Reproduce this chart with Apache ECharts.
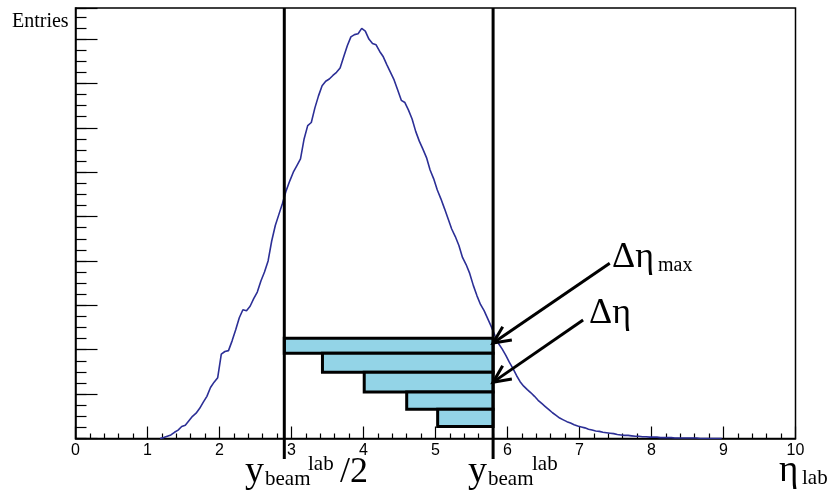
<!DOCTYPE html>
<html>
<head>
<meta charset="utf-8">
<script src="https://cdn.jsdelivr.net/npm/echarts@6/dist/echarts.min.js"></script>
<style>
  html, body { margin: 0; padding: 0; background: #fff; }
  #chart { width: 835px; height: 495px; }
</style>
</head>
<body>
<div id="chart"></div>
<script>
// Pseudorapidity distribution in the lab frame (arbitrary units), bins of 0.05
const binStart = 1.15;
const binWidth = 0.05;
const counts = [
  0.00, 0.02, 0.05, 0.08, 0.14, 0.19, 0.27, 0.30, 0.40,
  0.50, 0.57, 0.68, 0.82, 0.95, 1.15, 1.27, 1.37, 1.90, 1.96,
  1.98, 2.20, 2.45, 2.72, 2.90, 2.88, 2.98, 3.15, 3.30, 3.55,
  3.75, 4.00, 4.45, 4.80, 5.05, 5.30, 5.58, 5.80, 6.00, 6.15,
  6.30, 6.75, 7.05, 7.12, 7.45, 7.72, 7.95, 8.05, 8.10, 8.18,
  8.25, 8.35, 8.60, 8.85, 9.05, 9.10, 9.12, 9.24, 9.18, 9.00,
  8.90, 8.87, 8.72, 8.60, 8.42, 8.25, 8.08, 7.85, 7.62, 7.57,
  7.40, 7.20, 6.92, 6.70, 6.52, 6.33, 6.05, 5.85, 5.60, 5.40,
  5.18, 4.95, 4.72, 4.55, 4.35, 4.08, 3.92, 3.72, 3.45, 3.22,
  3.02, 2.88, 2.70, 2.52, 2.32, 2.14, 2.02, 1.88, 1.72, 1.58,
  1.42, 1.28, 1.18, 1.10, 1.03, 0.95, 0.86, 0.79, 0.72, 0.65,
  0.58, 0.52, 0.46, 0.42, 0.38, 0.35, 0.31, 0.28, 0.26, 0.24,
  0.21, 0.19, 0.17, 0.16, 0.14, 0.13, 0.12, 0.11, 0.09, 0.08,
  0.07, 0.07, 0.06, 0.05, 0.05, 0.04, 0.04, 0.03, 0.03, 0.03,
  0.02, 0.02, 0.02, 0.02, 0.01, 0.01, 0.01, 0.01, 0.01, 0.01,
  0.01, 0.00, 0.00, 0.00, 0.00, 0.00, 0.00, 0.00
];

// Axis ranges and ticks
const xTickValues = [0, 1, 2, 3, 4, 5, 6, 7, 8, 9, 10];
const yMax = 9.7;

// Beam rapidity markers
const yBeamHalf = 2.9;
const yBeam = 5.8;
const markerLines = [yBeamHalf, yBeam];

// Rapidity slices (left edge, right edge = yBeam), stacked from top to bottom
const sliceLeft = [2.9, 3.43, 4.01, 4.6, 5.03];
const sliceEdges = [2.26, 1.92, 1.49, 1.05, 0.66, 0.27];

// Annotation arrows: tail -> head
const arrowTail = [[7.42, 3.95], [7.05, 2.67]];
const arrowHead = [[5.8, 2.15], [5.8, 1.27]];

// histogram drawn through the bin centres
const histPoints = counts.map((c, i) => [binStart + (i + 0.5) * binWidth, c]);

const sliceData = sliceLeft.map((xl, i) => [xl, yBeam, sliceEdges[i], sliceEdges[i + 1]]);
const arrowData = arrowTail.map((t, i) => [t[0], t[1], arrowHead[i][0], arrowHead[i][1]]);

const SERIF = '"Liberation Serif", "Times New Roman", serif';
const SANS = '"Liberation Sans", Arial, sans-serif';

function txt(text, x, baseline, size) {
  return {
    type: 'text', x: x, y: baseline - 0.305 * size, z: 100,
    style: { text: text, font: size + 'px ' + SERIF, fill: '#000',
             align: 'left', verticalAlign: 'middle' }
  };
}

const chart = echarts.init(document.getElementById('chart'), null, { renderer: 'canvas' });

chart.setOption({
  animation: false,
  backgroundColor: '#fff',
  grid: {
    left: 75.5, top: 8, width: 720, height: 430.5,
    show: true, borderColor: '#000', borderWidth: 1.5, backgroundColor: 'transparent'
  },
  xAxis: {
    type: 'value', min: xTickValues[0], max: xTickValues[xTickValues.length - 1], interval: 1,
    axisLine: { show: true, lineStyle: { color: '#000', width: 1.5 } },
    axisTick: { show: true, inside: true, length: 12, lineStyle: { color: '#000', width: 1.2 } },
    minorTick: { show: true, splitNumber: 5, length: 5, lineStyle: { color: '#000', width: 1.2 } },
    axisLabel: { color: '#000', fontFamily: SANS, fontSize: 16, margin: 4 },
    splitLine: { show: false }
  },
  yAxis: [
    {
      type: 'value', min: 0, max: yMax, interval: 0.25, position: 'left',
      axisLine: { show: true, lineStyle: { color: '#000', width: 1.5 } },
      axisTick: { show: true, inside: true, length: 11, lineStyle: { color: '#000', width: 1.2 } },
      axisLabel: { show: false },
      splitLine: { show: false }
    },
    {
      type: 'value', min: 0, max: yMax, interval: 1, position: 'left', offset: 0,
      axisLine: { show: false },
      axisTick: { show: true, inside: true, length: 22, lineStyle: { color: '#000', width: 1.2 } },
      axisLabel: { show: false },
      splitLine: { show: false }
    }
  ],
  series: [
    {
      type: 'line', data: histPoints, showSymbol: false, z: 2,
      lineStyle: { color: '#2c2f96', width: 1.6 }, silent: true
    },
    {
      type: 'custom', z: 5, data: sliceData, encode: { x: [0, 1], y: [2, 3] },
      renderItem: function (params, api) {
        const p1 = api.coord([api.value(0), api.value(2)]);
        const p2 = api.coord([api.value(1), api.value(3)]);
        return {
          type: 'rect',
          shape: { x: p1[0], y: p1[1], width: p2[0] - p1[0], height: p2[1] - p1[1] },
          style: { fill: '#93d4e7', stroke: '#000', lineWidth: 3 }
        };
      }
    },
    {
      type: 'custom', z: 6, data: markerLines.map(v => [v]), encode: { x: 0 },
      renderItem: function (params, api) {
        const top = api.coord([api.value(0), yMax]);
        const bot = api.coord([api.value(0), -0.46]);
        return {
          type: 'line',
          shape: { x1: top[0], y1: top[1], x2: bot[0], y2: bot[1] },
          style: { stroke: '#000', lineWidth: 3 }
        };
      }
    },
    {
      type: 'custom', z: 7, data: arrowData, encode: { x: [0, 2], y: [1, 3] },
      renderItem: function (params, api) {
        const a = api.coord([api.value(0), api.value(1)]);
        const b = api.coord([api.value(2), api.value(3)]);
        const ang = Math.atan2(a[1] - b[1], a[0] - b[0]);
        const L = 19, spread = 0.44;
        const h1 = [b[0] + L * Math.cos(ang + spread), b[1] + L * Math.sin(ang + spread)];
        const h2 = [b[0] + L * Math.cos(ang - spread), b[1] + L * Math.sin(ang - spread)];
        return {
          type: 'group',
          children: [
            { type: 'line', shape: { x1: a[0], y1: a[1], x2: b[0], y2: b[1] },
              style: { stroke: '#000', lineWidth: 3 } },
            { type: 'polyline', shape: { points: [h1, b, h2] },
              style: { stroke: '#000', lineWidth: 3, fill: null } }
          ]
        };
      }
    }
  ],
  graphic: [
    txt('Entries', 12, 28, 20),
    // y_beam^lab /2
    txt('y', 245, 484, 38),
    txt('beam', 265, 486, 21),
    txt('lab', 308, 471, 21),
    txt('/2', 340, 484, 36),
    // y_beam^lab
    txt('y', 468, 484, 38),
    txt('beam', 488, 486, 21),
    txt('lab', 532, 471, 21),
    // eta_lab
    txt('η', 779, 483, 37),
    txt('lab', 802, 485, 21),
    // arrow labels
    txt('Δη', 612, 269, 36),
    txt('max', 658, 272, 20),
    txt('Δη', 589, 325, 36)
  ]
});
</script>
</body>
</html>
